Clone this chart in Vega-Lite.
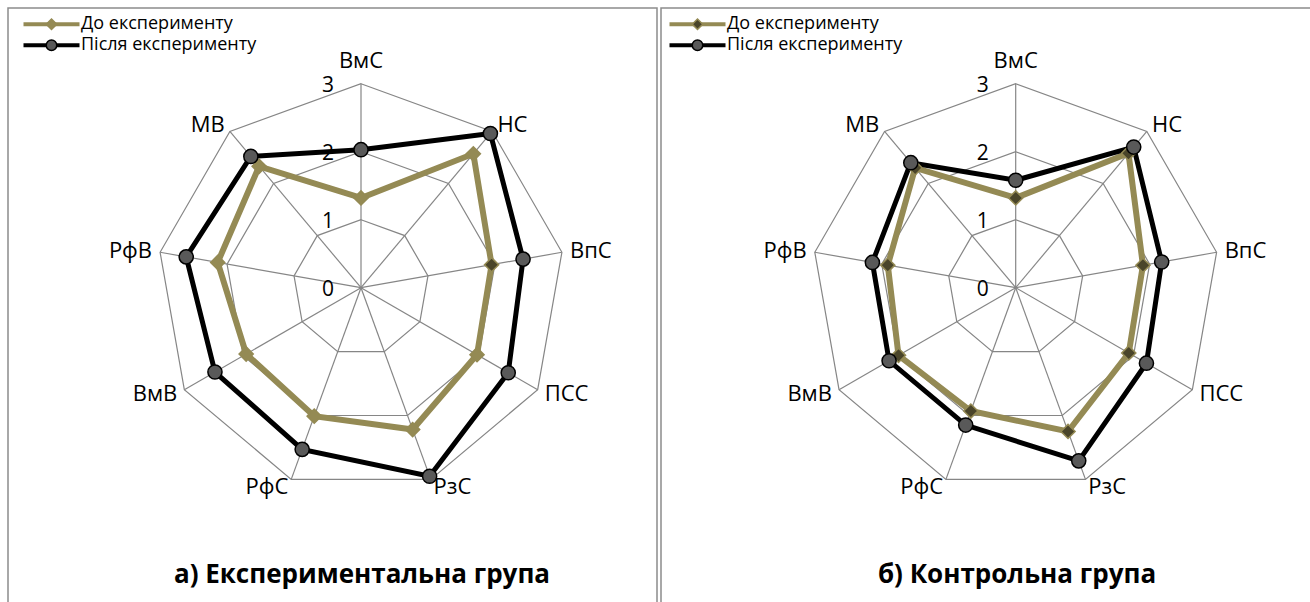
{
  "$schema": "https://vega.github.io/schema/vega-lite/v6.json",
  "padding": {"left": 7, "top": 7, "right": 0, "bottom": 0},
  "background": "white",
  "config": {
    "view": {"stroke": "#8c8c8c", "strokeWidth": 1.5},
    "font": "Open Sans",
    "text": {"font": "Open Sans", "color": "black"}
  },
  "datasets": {
    "scores": [
      {"group": "a", "series": "До експерименту", "axis": "ВмС", "value": 1.32},
      {"group": "a", "series": "До експерименту", "axis": "НС", "value": 2.57},
      {"group": "a", "series": "До експерименту", "axis": "ВпС", "value": 1.95},
      {"group": "a", "series": "До експерименту", "axis": "ПСС", "value": 1.97},
      {"group": "a", "series": "До експерименту", "axis": "РзС", "value": 2.22},
      {"group": "a", "series": "До експерименту", "axis": "РфС", "value": 2.01},
      {"group": "a", "series": "До експерименту", "axis": "ВмВ", "value": 1.95},
      {"group": "a", "series": "До експерименту", "axis": "РфВ", "value": 2.14},
      {"group": "a", "series": "До експерименту", "axis": "МВ", "value": 2.33},
      {"group": "a", "series": "Після експерименту", "axis": "ВмС", "value": 2.03},
      {"group": "a", "series": "Після експерименту", "axis": "НС", "value": 2.96},
      {"group": "a", "series": "Після експерименту", "axis": "ВпС", "value": 2.42},
      {"group": "a", "series": "Після експерименту", "axis": "ПСС", "value": 2.5},
      {"group": "a", "series": "Після експерименту", "axis": "РзС", "value": 2.95},
      {"group": "a", "series": "Після експерименту", "axis": "РфС", "value": 2.53},
      {"group": "a", "series": "Після експерименту", "axis": "ВмВ", "value": 2.48},
      {"group": "a", "series": "Після експерименту", "axis": "РфВ", "value": 2.61},
      {"group": "a", "series": "Після експерименту", "axis": "МВ", "value": 2.52},
      {"group": "b", "series": "До експерименту", "axis": "ВмС", "value": 1.32},
      {"group": "b", "series": "До експерименту", "axis": "НС", "value": 2.58},
      {"group": "b", "series": "До експерименту", "axis": "ВпС", "value": 1.9},
      {"group": "b", "series": "До експерименту", "axis": "ПСС", "value": 1.92},
      {"group": "b", "series": "До експерименту", "axis": "РзС", "value": 2.25},
      {"group": "b", "series": "До експерименту", "axis": "РфС", "value": 1.93},
      {"group": "b", "series": "До експерименту", "axis": "ВмВ", "value": 1.99},
      {"group": "b", "series": "До експерименту", "axis": "РфВ", "value": 1.91},
      {"group": "b", "series": "До експерименту", "axis": "МВ", "value": 2.3},
      {"group": "b", "series": "Після експерименту", "axis": "ВмС", "value": 1.58},
      {"group": "b", "series": "Після експерименту", "axis": "НС", "value": 2.7},
      {"group": "b", "series": "Після експерименту", "axis": "ВпС", "value": 2.18},
      {"group": "b", "series": "Після експерименту", "axis": "ПСС", "value": 2.22},
      {"group": "b", "series": "Після експерименту", "axis": "РзС", "value": 2.71},
      {"group": "b", "series": "Після експерименту", "axis": "РфС", "value": 2.15},
      {"group": "b", "series": "Після експерименту", "axis": "ВмВ", "value": 2.15},
      {"group": "b", "series": "Після експерименту", "axis": "РфВ", "value": 2.14},
      {"group": "b", "series": "Після експерименту", "axis": "МВ", "value": 2.4}
    ],
    "axes": [
      {"axis": "ВмС", "levels": [1, 2, 3]},
      {"axis": "НС", "levels": [1, 2, 3]},
      {"axis": "ВпС", "levels": [1, 2, 3]},
      {"axis": "ПСС", "levels": [1, 2, 3]},
      {"axis": "РзС", "levels": [1, 2, 3]},
      {"axis": "РфС", "levels": [1, 2, 3]},
      {"axis": "ВмВ", "levels": [1, 2, 3]},
      {"axis": "РфВ", "levels": [1, 2, 3]},
      {"axis": "МВ", "levels": [1, 2, 3]}
    ],
    "ticks": [{"level": 0}, {"level": 1}, {"level": 2}, {"level": 3}]
  },
  "spacing": 2,
  "resolve": {"scale": {"color": "independent", "fill": "independent", "stroke": "independent", "shape": "independent", "strokeWidth": "independent"}},
  "hconcat": [
    {
      "width": 649,
      "height": 600,
      "title": {"text": "а) Експериментальна група", "orient": "bottom", "offset": -46, "dx": 29.5, "fontSize": 26, "fontWeight": "bold", "font": "Open Sans", "color": "black", "anchor": "middle"},
      "encoding": {
        "x": {"field": "x", "type": "quantitative", "scale": {"domain": [-5.1912, 4.3529], "nice": false, "zero": false}, "axis": null},
        "y": {"field": "y", "type": "quantitative", "scale": {"domain": [-4.7103, 4.1132], "nice": false, "zero": false}, "axis": null}
      },
      "layer": [
        {
          "data": {"name": "axes"},
          "transform": [
            {"flatten": ["levels"], "as": ["level"]},
            {"calculate": "indexof(['ВмС','НС','ВпС','ПСС','РзС','РфС','ВмВ','РфВ','МВ'], datum.axis)", "as": "k"},
            {"calculate": "datum.level*sin(datum.k*2*PI/9)", "as": "x"},
            {"calculate": "datum.level*cos(datum.k*2*PI/9)", "as": "y"}
          ],
          "mark": {"type": "line", "interpolate": "linear-closed", "color": "#868686", "strokeWidth": 1.2},
          "encoding": {"detail": {"field": "level"}, "order": {"field": "k"}}
        },
        {
          "data": {"name": "axes"},
          "transform": [
            {"calculate": "indexof(['ВмС','НС','ВпС','ПСС','РзС','РфС','ВмВ','РфВ','МВ'], datum.axis)", "as": "k"},
            {"calculate": "3*sin(datum.k*2*PI/9)", "as": "x"},
            {"calculate": "3*cos(datum.k*2*PI/9)", "as": "y"}
          ],
          "mark": {"type": "rule", "color": "#868686", "strokeWidth": 1.2},
          "encoding": {"x2": {"datum": 0}, "y2": {"datum": 0}}
        },
        {
          "data": {"name": "scores"},
          "transform": [
            {"filter": "datum.group === 'a'"},
            {"calculate": "indexof(['ВмС','НС','ВпС','ПСС','РзС','РфС','ВмВ','РфВ','МВ'], datum.axis)", "as": "k"},
            {"calculate": "datum.value*sin(datum.k*2*PI/9)", "as": "x"},
            {"calculate": "datum.value*cos(datum.k*2*PI/9)", "as": "y"}
          ],
          "mark": {"type": "line", "interpolate": "linear-closed"},
          "encoding": {
            "color": {"field": "series", "type": "nominal", "scale": {"domain": ["До експерименту", "Після експерименту"], "range": ["#948A54", "#000000"]},
              "legend": {"orient": "none", "legendX": 34.5, "legendY": 7.2, "title": null, "symbolType": "M-5.6,0H5.6", "symbolSize": 100, "symbolStrokeWidth": 4, "labelFont": "Open Sans", "labelFontSize": 18, "labelColor": "black", "labelLimit": 400, "labelOffset": 20.5, "rowPadding": 3, "zindex": 1}},
            "strokeWidth": {"field": "series", "type": "nominal", "scale": {"range": [6, 5]}, "legend": null},
            "order": {"field": "k"}
          }
        },
        {
          "data": {"name": "scores"},
          "transform": [
            {"filter": "datum.group === 'a'"},
            {"calculate": "datum.series", "as": "marker"},
            {"calculate": "indexof(['ВмС','НС','ВпС','ПСС','РзС','РфС','ВмВ','РфВ','МВ'], datum.axis)", "as": "k"},
            {"calculate": "datum.value*sin(datum.k*2*PI/9)", "as": "x"},
            {"calculate": "datum.value*cos(datum.k*2*PI/9)", "as": "y"}
          ],
          "mark": {"type": "point", "filled": true, "opacity": 1, "strokeWidth": 1.5, "size": 200},
          "encoding": {
            "fill": {
              "condition": {"test": "datum.axis === 'ВпС' && datum.series === 'До експерименту'", "value": "#4A452A"},
              "field": "marker", "type": "nominal", "scale": {"range": ["#948A54", "#595959"]},
              "legend": {"orient": "none", "legendX": 34.5, "legendY": 7.2, "title": null, "symbolSize": 110, "symbolStrokeWidth": 1.5, "labelFont": "Open Sans", "labelFontSize": 18, "labelLimit": 400, "labelExpr": "''", "labelOffset": 20.5, "rowPadding": 3, "zindex": 2}},
            "stroke": {"field": "marker", "type": "nominal", "scale": {"range": ["#948A54", "#000000"]},
              "legend": {"orient": "none", "legendX": 34.5, "legendY": 7.2, "title": null, "symbolSize": 110, "symbolStrokeWidth": 1.5, "labelFont": "Open Sans", "labelFontSize": 18, "labelLimit": 400, "labelExpr": "''", "labelOffset": 20.5, "rowPadding": 3, "zindex": 2}},
            "shape": {"field": "marker", "type": "nominal", "scale": {"range": ["diamond", "circle"]},
              "legend": {"orient": "none", "legendX": 34.5, "legendY": 7.2, "title": null, "symbolSize": 110, "symbolStrokeWidth": 1.5, "labelFont": "Open Sans", "labelFontSize": 18, "labelLimit": 400, "labelExpr": "''", "labelOffset": 20.5, "rowPadding": 3, "zindex": 2}}
          }
        },
        {
          "data": {"name": "axes"},
          "transform": [
            {"calculate": "indexof(['ВмС','НС','ВпС','ПСС','РзС','РфС','ВмВ','РфВ','МВ'], datum.axis)", "as": "k"},
            {"filter": "datum.k >= 1 && datum.k <= 4"},
            {"calculate": "3.12*sin(datum.k*2*PI/9)", "as": "x"},
            {"calculate": "3.12*cos(datum.k*2*PI/9)", "as": "y"}
          ],
          "mark": {"type": "text", "align": "left", "baseline": "middle", "fontSize": 22},
          "encoding": {"text": {"field": "axis"}}
        },
        {
          "data": {"name": "axes"},
          "transform": [
            {"calculate": "indexof(['ВмС','НС','ВпС','ПСС','РзС','РфС','ВмВ','РфВ','МВ'], datum.axis)", "as": "k"},
            {"filter": "datum.k >= 5"},
            {"calculate": "3.12*sin(datum.k*2*PI/9)", "as": "x"},
            {"calculate": "3.12*cos(datum.k*2*PI/9)", "as": "y"}
          ],
          "mark": {"type": "text", "align": "right", "baseline": "middle", "fontSize": 22},
          "encoding": {"text": {"field": "axis"}}
        },
        {
          "data": {"name": "axes"},
          "transform": [
            {"calculate": "indexof(['ВмС','НС','ВпС','ПСС','РзС','РфС','ВмВ','РфВ','МВ'], datum.axis)", "as": "k"},
            {"filter": "datum.k === 0"},
            {"calculate": "3.12*sin(datum.k*2*PI/9)", "as": "x"},
            {"calculate": "3.12*cos(datum.k*2*PI/9)", "as": "y"}
          ],
          "mark": {"type": "text", "align": "center", "baseline": "alphabetic", "dy": -8, "fontSize": 22},
          "encoding": {"text": {"field": "axis"}}
        },
        {
          "data": {"name": "ticks"},
          "transform": [
            {"calculate": "0", "as": "x"},
            {"calculate": "datum.level", "as": "y"}
          ],
          "mark": {"type": "text", "align": "right", "baseline": "middle", "dx": -27, "dy": 2, "fontSize": 21},
          "encoding": {"text": {"field": "level", "type": "quantitative"}}
        }
      ]
    },
    {
      "width": 651,
      "height": 600,
      "title": {"text": "б) Контрольна група", "orient": "bottom", "offset": -46, "dx": 30.5, "fontSize": 26, "fontWeight": "bold", "font": "Open Sans", "color": "black", "anchor": "middle"},
      "encoding": {
        "x": {"field": "x", "type": "quantitative", "scale": {"domain": [-5.2162, 4.3574], "nice": false, "zero": false}, "axis": null},
        "y": {"field": "y", "type": "quantitative", "scale": {"domain": [-4.7103, 4.1132], "nice": false, "zero": false}, "axis": null}
      },
      "layer": [
        {
          "data": {"name": "axes"},
          "transform": [
            {"flatten": ["levels"], "as": ["level"]},
            {"calculate": "indexof(['ВмС','НС','ВпС','ПСС','РзС','РфС','ВмВ','РфВ','МВ'], datum.axis)", "as": "k"},
            {"calculate": "datum.level*sin(datum.k*2*PI/9)", "as": "x"},
            {"calculate": "datum.level*cos(datum.k*2*PI/9)", "as": "y"}
          ],
          "mark": {"type": "line", "interpolate": "linear-closed", "color": "#868686", "strokeWidth": 1.2},
          "encoding": {"detail": {"field": "level"}, "order": {"field": "k"}}
        },
        {
          "data": {"name": "axes"},
          "transform": [
            {"calculate": "indexof(['ВмС','НС','ВпС','ПСС','РзС','РфС','ВмВ','РфВ','МВ'], datum.axis)", "as": "k"},
            {"calculate": "3*sin(datum.k*2*PI/9)", "as": "x"},
            {"calculate": "3*cos(datum.k*2*PI/9)", "as": "y"}
          ],
          "mark": {"type": "rule", "color": "#868686", "strokeWidth": 1.2},
          "encoding": {"x2": {"datum": 0}, "y2": {"datum": 0}}
        },
        {
          "data": {"name": "scores"},
          "transform": [
            {"filter": "datum.group === 'b'"},
            {"calculate": "indexof(['ВмС','НС','ВпС','ПСС','РзС','РфС','ВмВ','РфВ','МВ'], datum.axis)", "as": "k"},
            {"calculate": "datum.value*sin(datum.k*2*PI/9)", "as": "x"},
            {"calculate": "datum.value*cos(datum.k*2*PI/9)", "as": "y"}
          ],
          "mark": {"type": "line", "interpolate": "linear-closed"},
          "encoding": {
            "color": {"field": "series", "type": "nominal", "scale": {"domain": ["До експерименту", "Після експерименту"], "range": ["#948A54", "#000000"]},
              "legend": {"orient": "none", "legendX": 27.5, "legendY": 7.2, "title": null, "symbolType": "M-5.6,0H5.6", "symbolSize": 100, "symbolStrokeWidth": 4, "labelFont": "Open Sans", "labelFontSize": 18, "labelColor": "black", "labelLimit": 400, "labelOffset": 20.5, "rowPadding": 3, "zindex": 1}},
            "strokeWidth": {"field": "series", "type": "nominal", "scale": {"range": [6, 5]}, "legend": null},
            "order": {"field": "k"}
          }
        },
        {
          "data": {"name": "scores"},
          "transform": [
            {"filter": "datum.group === 'b'"},
            {"calculate": "datum.series", "as": "marker"},
            {"calculate": "indexof(['ВмС','НС','ВпС','ПСС','РзС','РфС','ВмВ','РфВ','МВ'], datum.axis)", "as": "k"},
            {"calculate": "datum.value*sin(datum.k*2*PI/9)", "as": "x"},
            {"calculate": "datum.value*cos(datum.k*2*PI/9)", "as": "y"}
          ],
          "mark": {"type": "point", "filled": true, "opacity": 1, "strokeWidth": 1.5, "size": 200},
          "encoding": {
            "fill": {"field": "marker", "type": "nominal", "scale": {"range": ["#4A452A", "#595959"]},
              "legend": {"orient": "none", "legendX": 27.5, "legendY": 7.2, "title": null, "symbolSize": 110, "symbolStrokeWidth": 1.5, "labelFont": "Open Sans", "labelFontSize": 18, "labelLimit": 400, "labelExpr": "''", "labelOffset": 20.5, "rowPadding": 3, "zindex": 2}},
            "stroke": {"field": "marker", "type": "nominal", "scale": {"range": ["#948A54", "#000000"]},
              "legend": {"orient": "none", "legendX": 27.5, "legendY": 7.2, "title": null, "symbolSize": 110, "symbolStrokeWidth": 1.5, "labelFont": "Open Sans", "labelFontSize": 18, "labelLimit": 400, "labelExpr": "''", "labelOffset": 20.5, "rowPadding": 3, "zindex": 2}},
            "shape": {"field": "marker", "type": "nominal", "scale": {"range": ["diamond", "circle"]},
              "legend": {"orient": "none", "legendX": 27.5, "legendY": 7.2, "title": null, "symbolSize": 110, "symbolStrokeWidth": 1.5, "labelFont": "Open Sans", "labelFontSize": 18, "labelLimit": 400, "labelExpr": "''", "labelOffset": 20.5, "rowPadding": 3, "zindex": 2}}
          }
        },
        {
          "data": {"name": "axes"},
          "transform": [
            {"calculate": "indexof(['ВмС','НС','ВпС','ПСС','РзС','РфС','ВмВ','РфВ','МВ'], datum.axis)", "as": "k"},
            {"filter": "datum.k >= 1 && datum.k <= 4"},
            {"calculate": "3.12*sin(datum.k*2*PI/9)", "as": "x"},
            {"calculate": "3.12*cos(datum.k*2*PI/9)", "as": "y"}
          ],
          "mark": {"type": "text", "align": "left", "baseline": "middle", "fontSize": 22},
          "encoding": {"text": {"field": "axis"}}
        },
        {
          "data": {"name": "axes"},
          "transform": [
            {"calculate": "indexof(['ВмС','НС','ВпС','ПСС','РзС','РфС','ВмВ','РфВ','МВ'], datum.axis)", "as": "k"},
            {"filter": "datum.k >= 5"},
            {"calculate": "3.12*sin(datum.k*2*PI/9)", "as": "x"},
            {"calculate": "3.12*cos(datum.k*2*PI/9)", "as": "y"}
          ],
          "mark": {"type": "text", "align": "right", "baseline": "middle", "fontSize": 22},
          "encoding": {"text": {"field": "axis"}}
        },
        {
          "data": {"name": "axes"},
          "transform": [
            {"calculate": "indexof(['ВмС','НС','ВпС','ПСС','РзС','РфС','ВмВ','РфВ','МВ'], datum.axis)", "as": "k"},
            {"filter": "datum.k === 0"},
            {"calculate": "3.12*sin(datum.k*2*PI/9)", "as": "x"},
            {"calculate": "3.12*cos(datum.k*2*PI/9)", "as": "y"}
          ],
          "mark": {"type": "text", "align": "center", "baseline": "alphabetic", "dy": -8, "fontSize": 22},
          "encoding": {"text": {"field": "axis"}}
        },
        {
          "data": {"name": "ticks"},
          "transform": [
            {"calculate": "0", "as": "x"},
            {"calculate": "datum.level", "as": "y"}
          ],
          "mark": {"type": "text", "align": "right", "baseline": "middle", "dx": -27, "dy": 2, "fontSize": 21},
          "encoding": {"text": {"field": "level", "type": "quantitative"}}
        }
      ]
    }
  ]
}
